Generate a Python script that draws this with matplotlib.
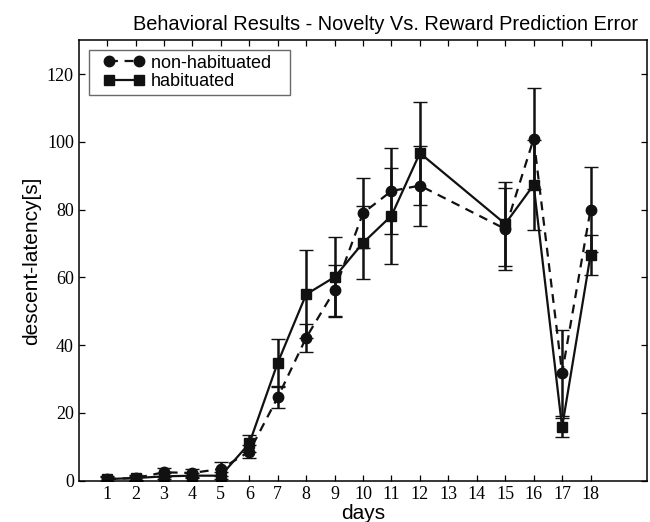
import numpy as np
import matplotlib
matplotlib.use("Agg")
import matplotlib.pyplot as plt
from matplotlib.lines import Line2D
from matplotlib.legend_handler import HandlerLine2D

# data
days = [1, 2, 3, 4, 5, 6, 7, 8, 9, 10, 11, 12, 15, 16, 17, 18]

non_hab = [0.5, 0.8, 2.5, 2.3, 3.5, 8.6, 24.6, 42.2, 56.2, 79.0, 85.5, 87.1, 74.3, 100.9, 31.8, 80.0]
non_hab_err = [0.8, 0.8, 1.4, 1.2, 2.0, 2.0, 3.2, 4.2, 7.5, 10.3, 12.8, 11.8, 12.0, 14.9, 12.8, 12.6]

hab = [0.5, 0.8, 1.3, 1.5, 1.5, 11.0, 34.8, 55.0, 60.1, 70.2, 78.2, 96.7, 75.8, 87.3, 15.8, 66.6]
hab_err = [0.6, 0.6, 0.9, 0.8, 1.0, 2.5, 6.9, 13.0, 11.7, 10.8, 14.2, 15.2, 12.3, 13.2, 2.8, 6.0]

xticks = list(range(1, 19))
yticks = [0, 20, 40, 60, 80, 100, 120]
labels = ["non-habituated   ", "habituated"]

sans = "Liberation Sans"
serif = "Liberation Serif"
ink = "#111111"

fig = plt.figure(figsize=(6.5, 5.22), dpi=100)
ax = fig.add_axes([0.121, 0.079, 0.875, 0.844])

ax.errorbar(days, non_hab, yerr=non_hab_err, color=ink, lw=1.6,
            dashes=(4, 3), marker="o", markersize=7.5, ecolor=ink,
            elinewidth=1.8, capsize=5, capthick=1.0)
ax.errorbar(days, hab, yerr=hab_err, color=ink, lw=1.6,
            marker="s", markersize=7.5, ecolor=ink,
            elinewidth=1.8, capsize=5, capthick=1.0)

ax.set_xlim(0, 20)
ax.set_ylim(0, 130)
ax.set_xticks(xticks)
ax.set_yticks(yticks)
ax.tick_params(direction="in", top=True, right=True, length=4, width=0.9)
for lbl in ax.get_xticklabels() + ax.get_yticklabels():
    lbl.set_fontfamily(serif)
    lbl.set_fontsize(13)
for s in ax.spines.values():
    s.set_linewidth(1.1)

ax.set_title("Behavioral Results - Novelty Vs. Reward Prediction Error",
             fontfamily=sans, fontsize=14.4, pad=7, x=0.54)
ax.set_xlabel("days", fontfamily=sans, fontsize=15, labelpad=1)
ax.set_ylabel("descent-latency[s]", fontfamily=sans, fontsize=15, labelpad=4)

# legend: dashed / solid handle with a marker at each end
handles = [
    Line2D([], [], color=ink, lw=1.6, dashes=(4, 3), marker="o", markersize=7.5),
    Line2D([], [], color=ink, lw=1.6, marker="s", markersize=7.5),
]
hmap = {h: HandlerLine2D(numpoints=2, xpad=0.56) for h in handles}
leg = ax.legend(handles, labels, loc="upper left", handler_map=hmap,
                prop={"family": sans, "size": 13},
                frameon=True, fancybox=False, handlelength=2.82, handletextpad=0.36,
                borderpad=0.25, labelspacing=0.09, borderaxespad=0.55)
leg.get_frame().set_edgecolor("#444444")
leg.get_frame().set_linewidth(1.0)

fig.savefig("out.png", dpi=100)
